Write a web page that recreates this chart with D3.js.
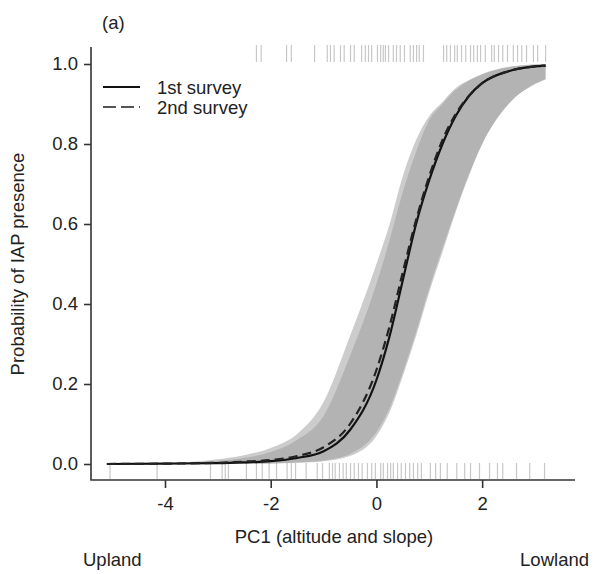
<!DOCTYPE html>
<html>
<head>
<meta charset="utf-8">
<script src="https://cdn.jsdelivr.net/npm/d3@7/dist/d3.min.js"></script>
<style>
  html, body { margin: 0; padding: 0; background: #fff; }
  svg { display: block; }
  text { font-family: "Liberation Sans", Arial, sans-serif; fill: #222; }
</style>
</head>
<body>
<svg id="chart" width="597" height="574"></svg>
<script>
// PC1 positions at which the fitted probabilities are given
const pc1Grid = [-5.1, -4, -3, -2.5, -2, -1.5, -1, -0.5, 0, 0.25, 0.5, 0.75, 1, 1.25, 1.5, 1.75, 2, 2.5, 3, 3.2];

// Fitted probability of IAP presence, first and second survey
const survey1Fit = [0.000, 0.001, 0.002, 0.004, 0.007, 0.015, 0.032, 0.085, 0.21, 0.32, 0.46, 0.60, 0.71, 0.80, 0.87, 0.92, 0.952, 0.982, 0.994, 0.996];
const survey2Fit = [0.000, 0.001, 0.003, 0.006, 0.010, 0.020, 0.042, 0.100, 0.235, 0.345, 0.48, 0.61, 0.72, 0.81, 0.875, 0.92, 0.952, 0.982, 0.994, 0.996];

// Confidence limits
const survey1Lower = [0, 0, 0.0002, 0.0005, 0.001, 0.003, 0.007, 0.02, 0.07, 0.13, 0.22, 0.32, 0.43, 0.53, 0.63, 0.72, 0.80, 0.90, 0.95, 0.962];
const survey1Upper = [0.0005, 0.002, 0.008, 0.015, 0.03, 0.06, 0.12, 0.27, 0.45, 0.56, 0.68, 0.78, 0.86, 0.90, 0.935, 0.958, 0.974, 0.992, 0.999, 1.0];
const survey2Lower = [0, 0, 0.0003, 0.0007, 0.0015, 0.004, 0.009, 0.025, 0.08, 0.14, 0.23, 0.33, 0.44, 0.54, 0.635, 0.725, 0.80, 0.90, 0.95, 0.962];
const survey2Upper = [0.001, 0.003, 0.012, 0.022, 0.04, 0.075, 0.155, 0.32, 0.50, 0.60, 0.72, 0.81, 0.87, 0.905, 0.94, 0.96, 0.975, 0.993, 0.999, 1.0];

// Observed sites (rug): PC1 of plots with IAP present / absent
const presentPC1 = [-2.27, -2.18, -1.70, -1.61, -1.17, -0.93, -0.87, -0.80, -0.68, -0.61, -0.49, -0.42, -0.28, -0.21, -0.15, -0.09, 0.02, 0.08, 0.13, 0.17, 0.23, 0.32, 0.38, 0.45, 0.53, 0.64, 0.70, 0.76, 0.81, 0.89, 1.27, 1.33, 1.40, 1.48, 1.53, 1.61, 1.69, 1.78, 1.84, 1.91, 1.97, 2.06, 2.18, 2.23, 2.31, 2.39, 2.48, 2.59, 2.67, 2.75, 2.84, 2.97, 3.05, 3.2];
const absentPC1 = [-5.04, -4.15, -3.14, -2.92, -2.86, -2.80, -2.46, -2.27, -2.16, -2.03, -1.89, -1.69, -1.61, -1.53, -1.33, -1.12, -1.02, -0.89, -0.83, -0.78, -0.70, -0.63, -0.57, -0.49, -0.42, -0.34, -0.27, -0.17, -0.09, -0.02, 0.08, 0.13, 0.21, 0.27, 0.32, 0.40, 0.47, 0.55, 0.63, 0.70, 0.78, 0.85, 1.02, 1.12, 1.21, 1.34, 1.52, 1.67, 1.78, 1.95, 2.14, 2.29, 2.39, 2.65, 2.90, 3.18];

const xTicks = [-4, -2, 0, 2];
const yTicks = [0, 0.2, 0.4, 0.6, 0.8, 1.0];
const legendLabels = ["1st survey", "2nd survey"];

const svg = d3.select("#chart");

const x = d3.scaleLinear().domain([-5.4, 3.7]).range([91, 572]);
const y = d3.scaleLinear().domain([-0.04, 1.04]).range([480, 48]);

const rows = pc1Grid.map((v, i) => ({
  pc1: v,
  f1: survey1Fit[i], f2: survey2Fit[i],
  l1: survey1Lower[i], u1: survey1Upper[i],
  l2: survey2Lower[i], u2: survey2Upper[i]
}));

// confidence ribbons (semi-transparent, overlap reads darker)
const band = (lo, hi) => d3.area()
  .x(d => x(d.pc1)).y0(d => y(d[lo])).y1(d => y(d[hi]))
  .curve(d3.curveMonotoneX);

svg.append("path").datum(rows).attr("d", band("l2", "u2"))
  .attr("fill", "#9a9a9a").attr("fill-opacity", 0.5);
svg.append("path").datum(rows).attr("d", band("l1", "u1"))
  .attr("fill", "#9a9a9a").attr("fill-opacity", 0.5);

// rug of observations
const rug = svg.append("g").attr("stroke", "#000").attr("stroke-opacity", 0.22).attr("stroke-width", 1.2);
rug.selectAll("line.top").data(presentPC1).join("line").attr("class", "top")
  .attr("x1", d => x(d)).attr("x2", d => x(d))
  .attr("y1", y(1.0) - 19).attr("y2", y(1.0) - 2);
rug.selectAll("line.bot").data(absentPC1).join("line").attr("class", "bot")
  .attr("x1", d => x(d)).attr("x2", d => x(d))
  .attr("y1", y(0) - 1).attr("y2", y(0) + 15);

// fitted curves
const fitLine = key => d3.line().x(d => x(d.pc1)).y(d => y(d[key])).curve(d3.curveMonotoneX);
svg.append("path").datum(rows).attr("d", fitLine("f1"))
  .attr("fill", "none").attr("stroke", "#111").attr("stroke-width", 2.2);
svg.append("path").datum(rows).attr("d", fitLine("f2"))
  .attr("fill", "none").attr("stroke", "#222").attr("stroke-width", 2.2)
  .attr("stroke-dasharray", "9,5");

// L-shaped frame
const axisColor = "#333";
svg.append("path")
  .attr("d", `M${x.range()[0]},${y(1.04) - 1}V${y(-0.04)}H575`)
  .attr("fill", "none").attr("stroke", axisColor).attr("stroke-width", 1.6);

// y axis
const yAxis = d3.axisLeft(y).tickValues(yTicks).tickFormat(d3.format(".1f")).tickSize(7).tickPadding(6);
const gy = svg.append("g").attr("transform", `translate(${x.range()[0]},0)`).call(yAxis);
gy.select(".domain").remove();
gy.selectAll(".tick line").attr("stroke", axisColor).attr("stroke-width", 1.6);
gy.selectAll(".tick text").attr("font-size", 18.5).attr("fill", "#222")
  .attr("font-family", "Liberation Sans, Arial, sans-serif");

// x axis
const xAxis = d3.axisBottom(x).tickValues(xTicks).tickFormat(d3.format("d")).tickSize(8).tickPadding(9);
const gx = svg.append("g").attr("transform", `translate(0,${y(-0.04)})`).call(xAxis);
gx.select(".domain").remove();
gx.selectAll(".tick line").attr("stroke", axisColor).attr("stroke-width", 1.6);
gx.selectAll(".tick text").attr("font-size", 18.5).attr("fill", "#222")
  .attr("font-family", "Liberation Sans, Arial, sans-serif")
  .text(d => d < 0 ? "-" + Math.abs(d) : String(d));

// titles and annotations
svg.append("text").attr("x", 102).attr("y", 29).attr("font-size", 18.5).text("(a)");
svg.append("text")
  .attr("transform", `translate(24,${(y(0) + y(1)) / 2}) rotate(-90)`)
  .attr("text-anchor", "middle").attr("font-size", 18.5)
  .text("Probability of IAP presence");
svg.append("text").attr("x", (x(-5.4) + 575) / 2 + 1).attr("y", 543)
  .attr("text-anchor", "middle").attr("font-size", 18.5)
  .text("PC1 (altitude and slope)");
svg.append("text").attr("x", 83).attr("y", 566).attr("font-size", 18.5).text("Upland");
svg.append("text").attr("x", 589).attr("y", 566).attr("text-anchor", "end").attr("font-size", 18.5).text("Lowland");

// legend
const legend = svg.append("g");
legendLabels.forEach((lab, i) => {
  const ly = 87 + i * 20;
  legend.append("line").attr("x1", 103).attr("x2", 140).attr("y1", ly).attr("y2", ly)
    .attr("stroke", i === 0 ? "#111" : "#555").attr("stroke-width", 2.2)
    .attr("stroke-dasharray", i === 0 ? null : "13,5");
  legend.append("text").attr("x", 157).attr("y", ly + 7).attr("font-size", 18.5).text(lab);
});
</script>
</body>
</html>
